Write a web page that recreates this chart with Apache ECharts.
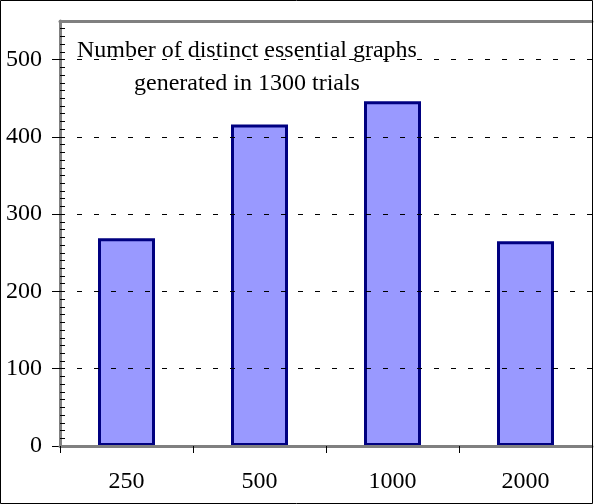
<!DOCTYPE html>
<html>
<head>
<meta charset="utf-8">
<script src="https://cdn.jsdelivr.net/npm/echarts@6/dist/echarts.min.js"></script>
<style>
  html, body { margin: 0; padding: 0; background: #fff; }
  #chart { width: 594px; height: 504px; }
</style>
</head>
<body>
<div id="chart"></div>
<script>
// data
const categories = ['250', '500', '1000', '2000'];
const graphCounts = [269, 416, 446, 265];
const yTickValues = [0, 100, 200, 300, 400, 500];
const yMax = 550;
const titleLines = ['Number of distinct essential graphs', 'generated in 1300 trials'];

const serif = "'Liberation Serif', 'Times New Roman', serif";
const axisGray = '#808080';

const chart = echarts.init(document.getElementById('chart'), null, { renderer: 'canvas' });

chart.setOption({
  animation: false,
  backgroundColor: '#fff',
  title: {
    text: titleLines.join('\n'),
    left: 242,
    top: 29,
    textAlign: 'center',
    textStyle: {
      fontFamily: serif,
      fontSize: 24,
      fontWeight: 'normal',
      color: '#000',
      lineHeight: 33
    }
  },
  grid: { left: 60, right: 2, top: 21, bottom: 58, containLabel: false },
  xAxis: [
    {
      type: 'category',
      data: categories,
      position: 'bottom',
      z: 5,
      axisLine: { onZero: false, lineStyle: { color: axisGray, width: 3 } },
      axisTick: { show: true, length: 7, lineStyle: { color: '#000', width: 1 } },
      axisLabel: { color: '#000', fontFamily: serif, fontSize: 24, margin: 24 },
      splitLine: { show: false }
    },
    {
      // top edge of the plot area
      type: 'category',
      data: categories,
      position: 'top',
      z: 5,
      axisLine: { onZero: false, lineStyle: { color: axisGray, width: 3 } },
      axisTick: { show: false },
      axisLabel: { show: false },
      splitLine: { show: false }
    }
  ],
  yAxis: [
    {
      type: 'value',
      min: 0,
      max: yMax,
      interval: 100,
      z: 3,
      axisLine: { show: true, onZero: false, lineStyle: { color: axisGray, width: 3 } },
      axisTick: { show: true, length: 8, customValues: yTickValues, lineStyle: { color: '#000', width: 1 } },
      axisLabel: { customValues: yTickValues, color: '#000', fontFamily: serif, fontSize: 24, margin: 18 },
      splitLine: { show: true, lineStyle: { color: '#000', width: 1, type: [5, 12] } }
    },
    {
      // minor ticks on the inside, every 10
      type: 'value',
      min: 0,
      max: yMax,
      interval: 10,
      position: 'left',
      z: 4,
      axisLine: { show: false, onZero: false },
      axisTick: { show: true, inside: true, length: 5, lineStyle: { color: '#000', width: 1 } },
      axisLabel: { show: false },
      splitLine: { show: false }
    }
  ],
  series: [
    {
      type: 'bar',
      data: graphCounts,
      xAxisIndex: 0,
      yAxisIndex: 0,
      barWidth: 57,
      z: 2,
      itemStyle: { color: '#9999FF', borderColor: '#000080', borderWidth: 3 }
    }
  ],
  graphic: [
    {
      type: 'rect',
      z: 100,
      silent: true,
      shape: { x: 0.5, y: 0.5, width: 592, height: 503 },
      style: { fill: null, stroke: '#000', lineWidth: 1 }
    }
  ]
});
</script>
</body>
</html>
